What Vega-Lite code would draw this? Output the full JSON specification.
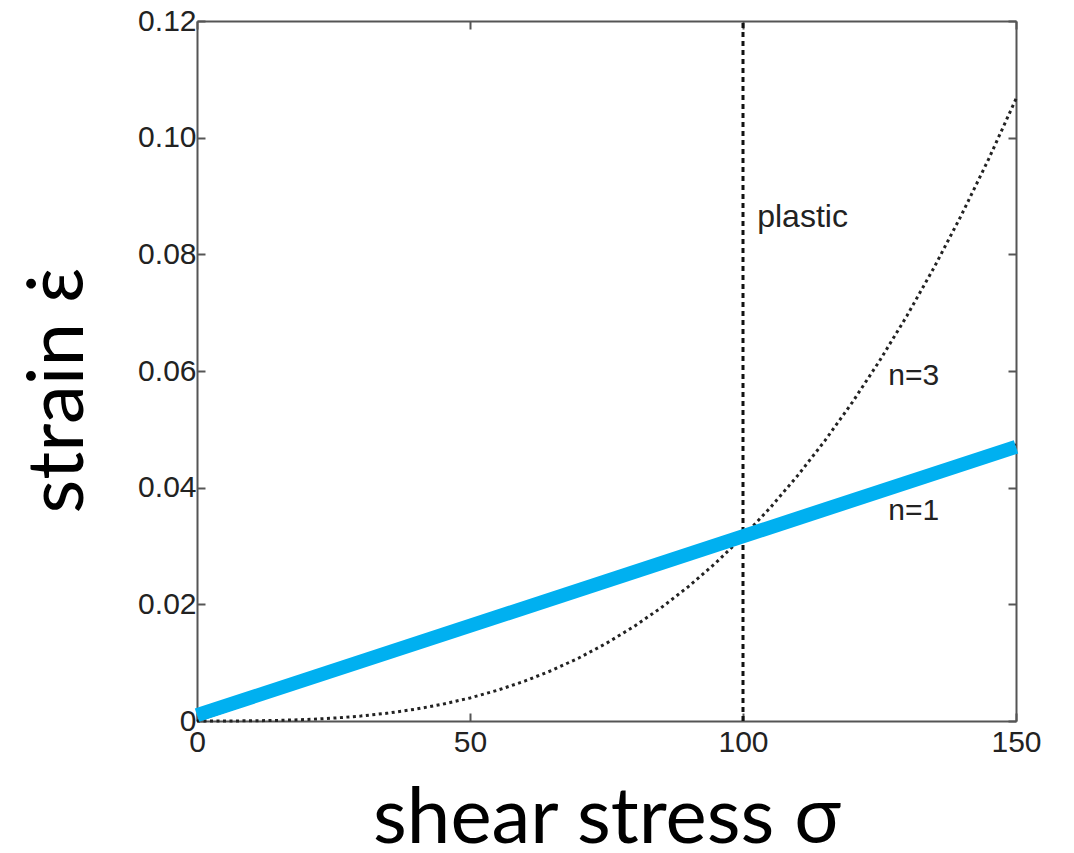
{
  "$schema": "https://vega.github.io/schema/vega-lite/v6.json",
  "width": 819,
  "height": 700,
  "autosize": {"type": "none"},
  "padding": {"left": 197, "top": 21, "right": 58, "bottom": 132},
  "background": "white",
  "config": {
    "view": {"stroke": null},
    "axis": {
      "grid": false,
      "domainColor": "#555",
      "domainWidth": 2,
      "tickColor": "#555",
      "tickWidth": 2,
      "tickSize": -8,
      "labelFont": "Liberation Sans",
      "labelFontSize": 30,
      "labelColor": "#222",
      "titleFont": "Lato",
      "titleFontWeight": "normal",
      "titleColor": "#000"
    }
  },
  "datasets": {
    "n3": [
      {"s": 0, "v": 0}, {"s": 5, "v": 0.00000395}, {"s": 10, "v": 0.0000316}, {"s": 15, "v": 0.000107},
      {"s": 20, "v": 0.000253}, {"s": 25, "v": 0.000494}, {"s": 30, "v": 0.000853}, {"s": 35, "v": 0.001355},
      {"s": 40, "v": 0.002022}, {"s": 45, "v": 0.00288}, {"s": 50, "v": 0.00395}, {"s": 55, "v": 0.00526},
      {"s": 60, "v": 0.00683}, {"s": 65, "v": 0.00868}, {"s": 70, "v": 0.01084}, {"s": 75, "v": 0.01333},
      {"s": 80, "v": 0.01618}, {"s": 85, "v": 0.01941}, {"s": 90, "v": 0.02304}, {"s": 95, "v": 0.02709},
      {"s": 100, "v": 0.0316}, {"s": 105, "v": 0.03658}, {"s": 110, "v": 0.04206}, {"s": 115, "v": 0.04806},
      {"s": 120, "v": 0.0546}, {"s": 125, "v": 0.06172}, {"s": 130, "v": 0.06943}, {"s": 135, "v": 0.07775},
      {"s": 140, "v": 0.08672}, {"s": 145, "v": 0.09635}, {"s": 150, "v": 0.10665}
    ],
    "n1": [{"s": 0, "v": 0}, {"s": 150, "v": 0.0474}],
    "blue": [{"s": 0, "v": 0.001}, {"s": 150, "v": 0.047}],
    "vline": [{"s": 100, "v": 0}, {"s": 100, "v": 0.12}],
    "labels": [
      {"s": 102.6, "v": 0.0847, "text": "plastic", "size": 32},
      {"s": 126.6, "v": 0.0576, "text": "n=3", "size": 30},
      {"s": 126.6, "v": 0.0345, "text": "n=1", "size": 30}
    ]
  },
  "resolve": {"axis": {"x": "independent", "y": "independent"}},
  "layer": [
    {
      "data": {"name": "n3"},
      "mark": {"type": "line", "color": "#222", "strokeWidth": 3, "strokeDash": [3, 3.5]},
      "encoding": {
        "x": {"field": "s", "type": "quantitative",
          "scale": {"domain": [0, 150], "nice": false, "zero": false},
          "axis": {"orient": "bottom", "values": [0, 50, 100, 150], "title": "shear stress σ",
            "titleFontSize": 78, "titleBaseline": "alphabetic", "titleY": 121, "labelPadding": 14, "labelFlush": false}},
        "y": {"field": "v", "type": "quantitative",
          "scale": {"domain": [0, 0.12], "nice": false, "zero": false},
          "axis": {"orient": "left", "values": [0, 0.02, 0.04, 0.06, 0.08, 0.1, 0.12], "title": "strain ε̇",
            "labelExpr": "datum.value == 0 ? '0' : format(datum.value, '.2f')",
            "titleFontSize": 78, "titleAngle": -90, "titleBaseline": "alphabetic", "titleAlign": "center",
            "titleX": -115, "titleY": 369, "labelPadding": 9, "labelFlush": false}}
      }
    },
    {
      "data": {"name": "n1"},
      "mark": {"type": "line", "color": "#111", "strokeWidth": 2},
      "encoding": {
        "x": {"field": "s", "type": "quantitative", "scale": {"domain": [0, 150], "nice": false, "zero": false}, "axis": null},
        "y": {"field": "v", "type": "quantitative", "scale": {"domain": [0, 0.12], "nice": false, "zero": false}, "axis": null}
      }
    },
    {
      "data": {"name": "vline"},
      "mark": {"type": "line", "color": "#111", "strokeWidth": 3, "strokeDash": [5, 4]},
      "encoding": {
        "x": {"field": "s", "type": "quantitative", "scale": {"domain": [0, 150], "nice": false, "zero": false},
          "axis": {"orient": "top", "values": [0, 50, 100, 150], "labels": false, "title": null}},
        "y": {"field": "v", "type": "quantitative", "scale": {"domain": [0, 0.12], "nice": false, "zero": false},
          "axis": {"orient": "right", "values": [0, 0.02, 0.04, 0.06, 0.08, 0.1, 0.12], "labels": false, "title": null}}
      }
    },
    {
      "data": {"name": "blue"},
      "mark": {"type": "line", "color": "#00B0F0", "strokeWidth": 14, "strokeCap": "butt"},
      "encoding": {
        "x": {"field": "s", "type": "quantitative", "scale": {"domain": [0, 150], "nice": false, "zero": false}, "axis": null},
        "y": {"field": "v", "type": "quantitative", "scale": {"domain": [0, 0.12], "nice": false, "zero": false}, "axis": null}
      }
    },
    {
      "data": {"name": "labels"},
      "mark": {"type": "text", "align": "left", "baseline": "alphabetic", "font": "Liberation Sans", "color": "#222"},
      "encoding": {
        "x": {"field": "s", "type": "quantitative", "scale": {"domain": [0, 150], "nice": false, "zero": false}, "axis": null},
        "y": {"field": "v", "type": "quantitative", "scale": {"domain": [0, 0.12], "nice": false, "zero": false}, "axis": null},
        "size": {"field": "size", "type": "quantitative", "scale": null, "legend": null},
        "text": {"field": "text"}
      }
    }
  ]
}
